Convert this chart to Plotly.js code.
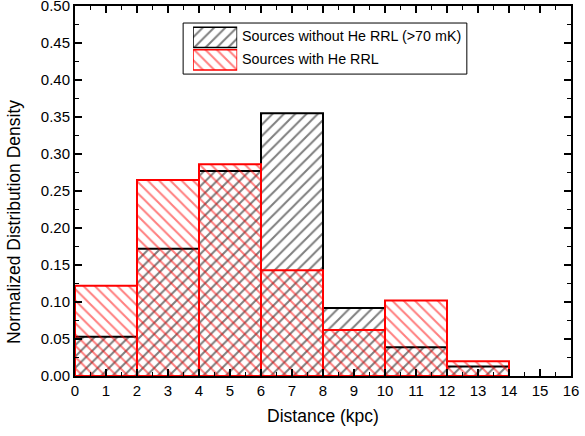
<!DOCTYPE html>
<html>
<head>
<meta charset="utf-8">
<script src="https://cdn.plot.ly/plotly-3.0.1.min.js"></script>
<style>html,body{margin:0;padding:0;background:#fff;}#chart{width:585px;height:436px;}</style>
</head>
<body>
<div id="chart"></div>
<script>
const binCenters = [1, 3, 5, 7, 9, 11, 13];
const binWidth = [2, 2, 2, 2, 2, 2, 2];
const withoutHe = [0.053, 0.172, 0.277, 0.355, 0.092, 0.039, 0.013];
const withHe = [0.122, 0.265, 0.286, 0.143, 0.062, 0.102, 0.020];
const seriesNames = ['Sources without He RRL (>70 mK)', 'Sources with He RRL'];
const xTickVals = [0,1,2,3,4,5,6,7,8,9,10,11,12,13,14,15,16];
const yTickVals = [0,0.05,0.10,0.15,0.20,0.25,0.30,0.35,0.40,0.45,0.50];

const font = 'Liberation Sans, Arial, sans-serif';

const blackPattern = {shape: '/', fgcolor: 'black', bgcolor: 'white', size: 8, solidity: 0.25, fillmode: 'overlay'};
const redPattern = {shape: '\\', fgcolor: 'red', bgcolor: 'rgba(0,0,0,0)', size: 8, solidity: 0.25, fillmode: 'overlay'};

const traces = [
  {
    type: 'bar', x: binCenters, y: withoutHe, width: binWidth,
    name: seriesNames[0], showlegend: false,
    marker: {color: 'white', line: {color: 'black', width: 2}, pattern: blackPattern},
    hoverinfo: 'x+y'
  },
  {
    type: 'bar', x: binCenters, y: withHe, width: binWidth,
    name: seriesNames[1], showlegend: false,
    marker: {color: 'rgba(0,0,0,0)', line: {color: 'red', width: 2}, pattern: redPattern},
    hoverinfo: 'x+y'
  },
  // legend swatches (drawn on a small hidden axis pair inside the legend box)
  {
    type: 'bar', orientation: 'h', x: [1], y: [1.5], width: [0.9], base: [0],
    xaxis: 'x2', yaxis: 'y2', showlegend: false, hoverinfo: 'skip',
    marker: {color: 'white', line: {color: 'black', width: 1.5}, pattern: blackPattern}
  },
  {
    type: 'bar', orientation: 'h', x: [1], y: [0.5], width: [0.9], base: [0],
    xaxis: 'x2', yaxis: 'y2', showlegend: false, hoverinfo: 'skip',
    marker: {color: 'white', line: {color: 'red', width: 1.5}, pattern: redPattern}
  }
];

const axisCommon = {
  showline: true, linecolor: 'black', linewidth: 2, mirror: 'ticks',
  ticks: 'inside', ticklen: 7, tickwidth: 1.2, tickcolor: 'black',
  showgrid: false, zeroline: false, ticklabeloverflow: 'allow',
  tickfont: {family: font, size: 15, color: 'black'}
};

const layout = {
  width: 585, height: 436,
  margin: {l: 75, r: 14, t: 6, b: 60},
  paper_bgcolor: 'white', plot_bgcolor: 'white',
  barmode: 'overlay',
  showlegend: false,
  xaxis: Object.assign({}, axisCommon, {
    range: [0, 16], tickvals: xTickVals, ticktext: xTickVals.map(String),
    minor: {dtick: 0.5, tick0: 0, ticks: 'inside', ticklen: 4, tickcolor: 'black'},
    title: {text: 'Distance (kpc)', font: {family: font, size: 17.5, color: 'black'}, standoff: 12}
  }),
  yaxis: Object.assign({}, axisCommon, {
    range: [0, 0.5], tickvals: yTickVals, ticktext: yTickVals.map(v => v.toFixed(2)),
    minor: {dtick: 0.025, tick0: 0, ticks: 'inside', ticklen: 4, tickcolor: 'black'}
  }),
  xaxis2: {domain: [0.238, 0.327], range: [0, 1], anchor: 'y2', visible: false, fixedrange: true},
  yaxis2: {domain: [0.8243, 0.9459], range: [0, 2], anchor: 'x2', visible: false, fixedrange: true},
  shapes: [
    {type: 'rect', xref: 'paper', yref: 'paper', x0: 0.218, x1: 0.790, y0: 0.816, y1: 0.954,
     line: {color: 'black', width: 1}, fillcolor: 'white', layer: 'below'}
  ],
  annotations: [
    {xref: 'paper', yref: 'paper', x: 0.333, y: 0.919, xanchor: 'left', yanchor: 'middle', showarrow: false,
     text: seriesNames[0], font: {family: font, size: 14.3, color: 'black'}},
    {xref: 'paper', yref: 'paper', x: 0.333, y: 0.857, xanchor: 'left', yanchor: 'middle', showarrow: false,
     text: seriesNames[1], font: {family: font, size: 14.3, color: 'black'}},
    {xref: 'paper', yref: 'paper', x: -0.123, y: 0.416, xanchor: 'center', yanchor: 'middle', showarrow: false,
     textangle: -90, text: 'Normalized Distribution Density', font: {family: font, size: 17.5, color: 'black'}}
  ]
};

Plotly.newPlot('chart', traces, layout, {displayModeBar: false, staticPlot: true});
</script>
</body>
</html>
